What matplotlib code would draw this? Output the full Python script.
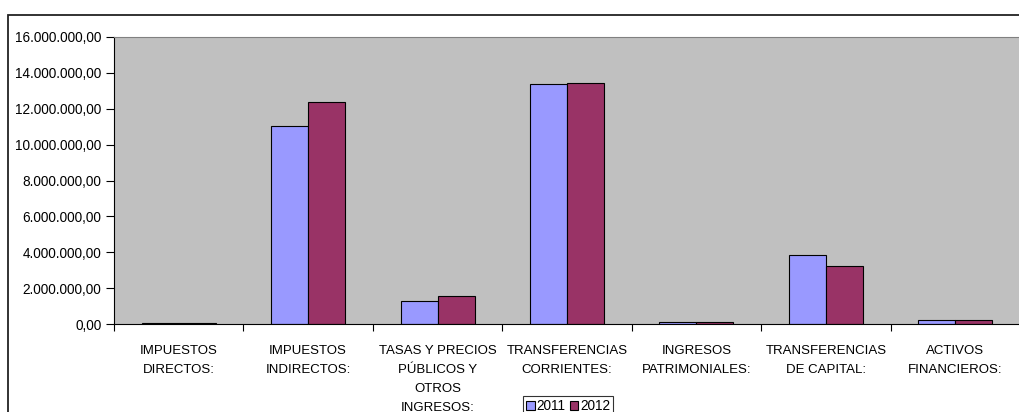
import numpy as np
import matplotlib
matplotlib.use("Agg")
import matplotlib.pyplot as plt
from matplotlib.patches import Rectangle
from matplotlib.ticker import FuncFormatter

plt.rcParams['font.family'] = ['Liberation Sans', 'DejaVu Sans']

categories = ['IMPUESTOS\nDIRECTOS:', 'IMPUESTOS\nINDIRECTOS:',
              'TASAS Y PRECIOS\nPÚBLICOS Y\nOTROS\nINGRESOS:',
              'TRANSFERENCIAS\nCORRIENTES:', 'INGRESOS\nPATRIMONIALES:',
              'TRANSFERENCIAS\nDE CAPITAL:', 'ACTIVOS\nFINANCIEROS:']
values_2011 = [30000, 11040000, 1300000, 13390000, 100000, 3830000, 200000]
values_2012 = [30000, 12360000, 1540000, 13450000, 105000, 3250000, 200000]
series_names = ['2011', '2012']
y_ticks = [0, 2000000, 4000000, 6000000, 8000000, 10000000, 12000000, 14000000, 16000000]

W, H = 1019, 412
fig = plt.figure(figsize=(W / 100, H / 100), dpi=100)

# outer chart frame (cut off at right and bottom like the original)
fig.patches.append(Rectangle((8 / W, -0.1), 1.2, 1 - 15 / H + 0.1,
                             transform=fig.transFigure, fill=False,
                             edgecolor='#222222', linewidth=1.3))

ax = fig.add_axes([114 / W, (H - 324) / H, (1020 - 114) / W, (324 - 37) / H])
ax.set_facecolor('#C0C0C0')

x = np.arange(len(categories))
bw = 0.286
ax.bar(x - bw / 2, values_2011, bw, color='#9999FF', edgecolor='black', linewidth=0.8, label=series_names[0])
ax.bar(x + bw / 2, values_2012, bw, color='#993366', edgecolor='black', linewidth=0.8, label=series_names[1])

ax.set_xlim(-0.5, len(categories) - 0.5)
ax.set_ylim(0, 16000000)
ax.set_yticks(y_ticks)

def fmt(v, pos):
    s = '{:,.2f}'.format(v)
    return s.replace(',', 'X').replace('.', ',').replace('X', '.')

ax.yaxis.set_major_formatter(FuncFormatter(fmt))
ax.tick_params(axis='y', direction='out', length=6, width=0.8, pad=3, labelsize=9.8)

ax.set_xticks(np.arange(len(categories) + 1) - 0.5)
ax.set_xticklabels([])
ax.set_xticks(x, minor=True)
ax.set_xticklabels(categories, minor=True, fontsize=9.5, linespacing=1.8)
ax.tick_params(axis='x', which='major', direction='out', length=5, width=0.8)
ax.tick_params(axis='x', which='minor', length=0, pad=15)

ax.spines['top'].set_color('#808080')
ax.spines['right'].set_visible(False)
ax.spines['left'].set_color('black')
ax.spines['bottom'].set_color('black')
for s in ax.spines.values():
    s.set_linewidth(0.8)

leg = fig.legend(loc='upper left', bbox_to_anchor=(523 / W, 1 - 396 / H),
                 ncol=2, fontsize=9.8, frameon=True, fancybox=False,
                 edgecolor='black', handlelength=0.6, handleheight=0.6,
                 handletextpad=0.15, columnspacing=0.3, borderpad=0.25,
                 borderaxespad=0)
leg.get_frame().set_linewidth(0.8)

fig.savefig('out.png', dpi=100)
